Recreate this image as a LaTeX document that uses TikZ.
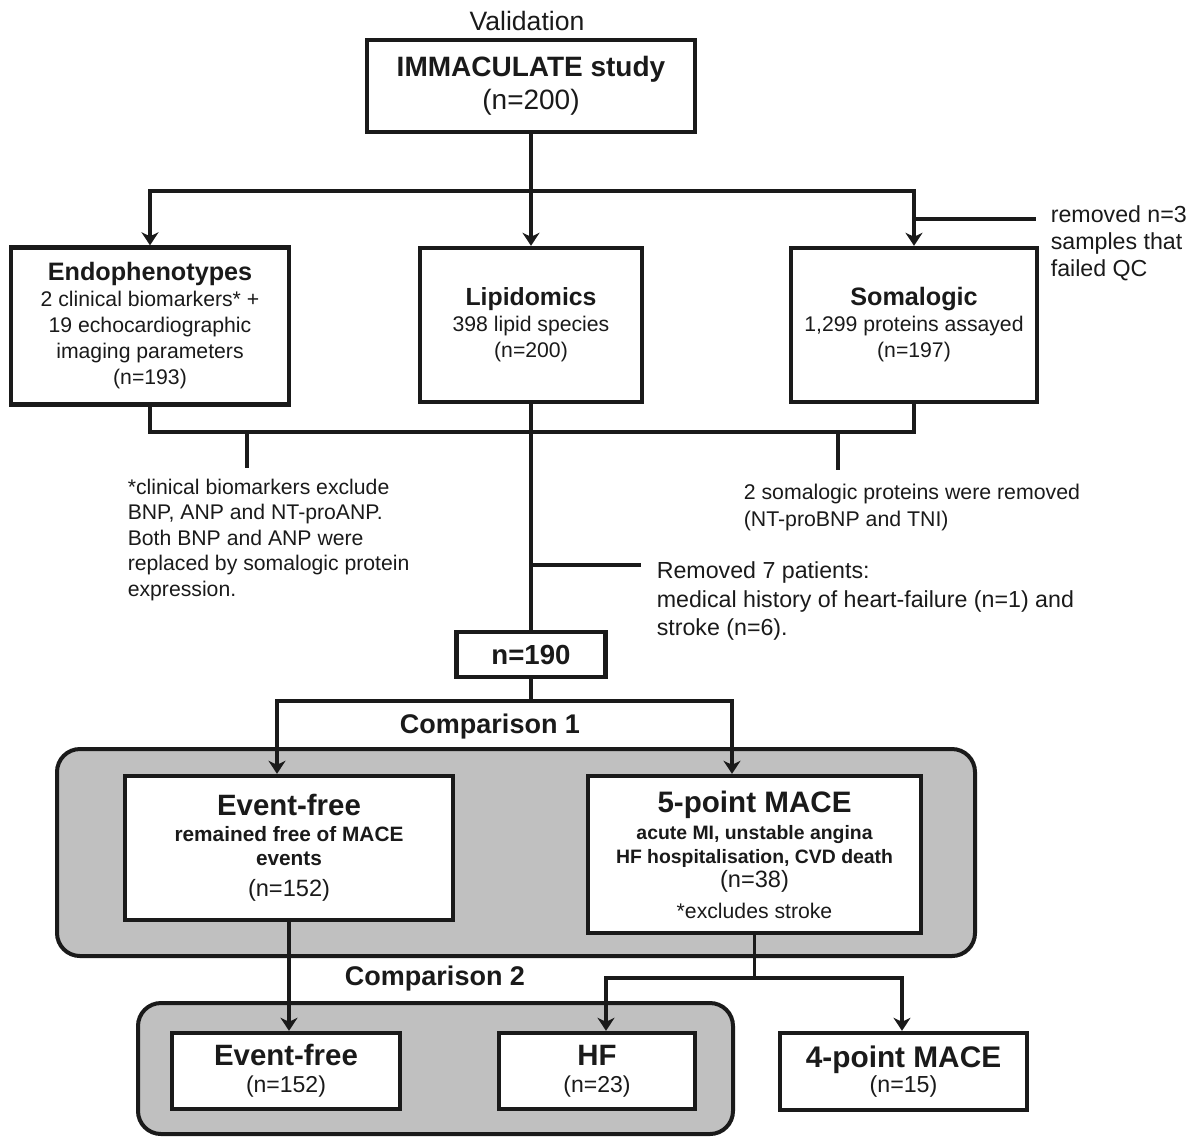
\documentclass[tikz,border=0pt]{standalone}
\usepackage{fontspec}
\setmainfont{Liberation Sans}
\usetikzlibrary{arrows.meta}
\definecolor{ink}{RGB}{26,26,26}
\definecolor{panelgray}{RGB}{192,192,192}

\begin{document}
\begin{tikzpicture}[x=0.5pt, y=-0.5pt, color=ink, line width=1.8pt, >={Stealth[length=6.5pt,width=8.5pt,inset=2pt]}]
\tikzstyle{box}=[draw, fill=white, line width=2.2pt, align=center, inner sep=0pt]
\tikzstyle{panel}=[draw, fill=panelgray, line width=2pt, rounded corners=11.5pt]
\tikzstyle{note}=[anchor=north west, align=left, inner sep=0pt]
\tikzstyle{head}=[inner sep=0pt, font=\fontsize{13.5}{16}\selectfont\bfseries]
\useasboundingbox (0,0) rectangle (1198,1136);

\draw[panel] (57,749) rectangle (975,956);
\draw[panel] (138,1003) rectangle (733,1134);

\node[inner sep=0pt, font=\fontsize{13.3}{16}\selectfont] (val) at (527,21) {Validation};
\node[box, minimum width=164pt, minimum height=46pt, font=\fontsize{14}{16.5}\selectfont] (study) at (531,86) {\textbf{IMMACULATE study}\\(n=200)};

\node[box, minimum width=139pt, minimum height=78.5pt, font=\fontsize{10.6}{13}\selectfont] (endo) at (150,326) {{\fontsize{12.6}{15}\selectfont\bfseries Endophenotypes}\\2 clinical biomarkers* +\\19 echocardiographic\\imaging parameters\\(n=193)};
\node[box, minimum width=111pt, minimum height=77pt, font=\fontsize{10.6}{13}\selectfont] (lipid) at (531,325) {{\fontsize{12.4}{15}\selectfont\bfseries Lipidomics}\\398 lipid species\\(n=200)};
\node[box, minimum width=123pt, minimum height=77pt, font=\fontsize{10.6}{13}\selectfont] (soma) at (914,325) {{\fontsize{12.6}{15}\selectfont\bfseries Somalogic}\\1,299 proteins assayed\\(n=197)};

\node[note, font=\fontsize{11.6}{13.5}\selectfont] (qcnote) at (1049,204) {removed n=3\\samples that\\failed QC};
\node[note, font=\fontsize{10.6}{12.75}\selectfont] (bnpnote) at (126,477) {*clinical biomarkers exclude\\BNP, ANP and NT-proANP.\\Both BNP and ANP were\\replaced by somalogic protein\\expression.};
\node[note, font=\fontsize{10.65}{13.5}\selectfont] (protnote) at (742,482) {2 somalogic proteins were removed\\(NT-proBNP and TNI)};
\node[note, font=\fontsize{11.6}{14.2}\selectfont] (excnote) at (655,560) {Removed 7 patients:\\medical history of heart-failure (n=1) and\\stroke (n=6).};

\node[box, minimum width=74.5pt, minimum height=22.5pt, font=\fontsize{13.8}{16}\selectfont\bfseries] (n190) at (531,654.5) {n=190};

\node[head] (cmp1) at (490,727) {Comparison 1};
\node[box, minimum width=164pt, minimum height=72pt, font=\fontsize{10.4}{11.75}\selectfont\bfseries] (ef1) at (289,848) {{\fontsize{14.7}{17}\selectfont Event-free}\\[1.5pt]remained free of MACE\\events\\[4pt]{\mdseries\fontsize{11.8}{14}\selectfont (n=152)}};
\node[box, minimum width=166.5pt, minimum height=78.5pt, font=\fontsize{9.7}{12}\selectfont\bfseries] (mace5) at (754.5,854.5) {{\fontsize{14.8}{17}\selectfont 5-point MACE}\\[1.5pt]acute MI, unstable angina\\HF hospitalisation, CVD death\\{\mdseries\fontsize{11.8}{14}\selectfont (n=38)}\\[3.5pt]{\mdseries\fontsize{10.6}{13}\selectfont *excludes stroke}};

\node[head] (cmp2) at (435,978) {Comparison 2};
\node[box, minimum width=114pt, minimum height=38pt, font=\fontsize{11.5}{13.5}\selectfont] (ef2) at (286,1071) {{\fontsize{14.7}{17}\selectfont\bfseries Event-free}\\(n=152)};
\node[box, minimum width=98pt, minimum height=38pt, font=\fontsize{11.5}{13.5}\selectfont] (hf) at (597,1071) {{\fontsize{14.7}{17}\selectfont\bfseries HF}\\(n=23)};
\node[box, minimum width=123.5pt, minimum height=38.5pt, font=\fontsize{11.6}{12.8}\selectfont] (mace4) at (903.5,1071.5) {{\fontsize{14.9}{17}\selectfont\bfseries 4-point MACE}\\(n=15)};

\coordinate (split1) at (531,191);
\coordinate (qc) at (914,219);
\coordinate (qcend) at (1036,219);
\coordinate (merge) at (531,432);
\coordinate (bnptick) at (247,432);
\coordinate (bnpend) at (247,468);
\coordinate (prottick) at (838,432);
\coordinate (protend) at (838,470);
\coordinate (exc) at (531,565);
\coordinate (excend) at (641,565);
\coordinate (split2) at (531,701);
\coordinate (c1l) at (277,701);
\coordinate (c1r) at (732,701);
\coordinate (split3) at (754.5,978);
\coordinate (c2l) at (606,978);
\coordinate (c2r) at (902,978);

\draw (study) -- (split1);
\draw[->] (split1) -| (endo);
\draw[->] (split1) -- (lipid);
\draw[->] (split1) -| (soma);
\draw (qc) -- (qcend);
\draw (endo) |- (merge) -| (soma);
\draw (bnptick) -- (bnpend);
\draw (prottick) -- (protend);
\draw (lipid) -- (n190);
\draw (exc) -- (excend);
\draw (n190) -- (split2);
\draw[->] (split2) -- (c1l) -- (c1l |- ef1.north);
\draw[->] (split2) -- (c1r) -- (c1r |- mace5.north);
\draw[->] (ef1.south) -- (ef1.south |- ef2.north);
\draw (mace5) -- (split3);
\draw[->] (split3) -- (c2l) -- (c2l |- hf.north);
\draw[->] (split3) -- (c2r) -- (c2r |- mace4.north);
\end{tikzpicture}
\end{document}
